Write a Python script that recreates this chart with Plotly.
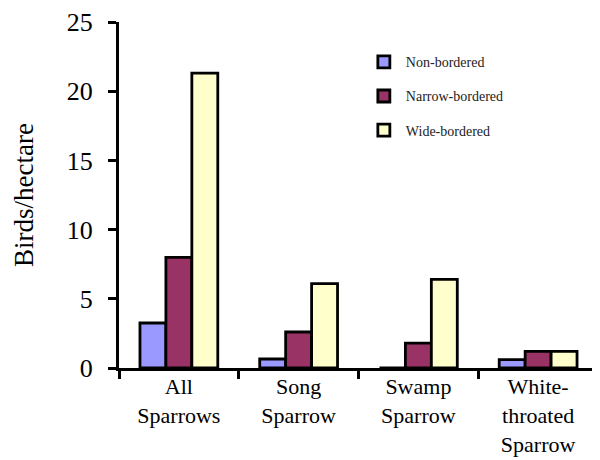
import plotly.graph_objects as go

categories = ["All<br>Sparrows", "Song<br>Sparrow", "Swamp<br>Sparrow", "White-<br>throated<br>Sparrow"]
series_names = ["Non-bordered", "Narrow-bordered", "Wide-bordered"]
non_bordered = [3.25, 0.65, 0.0, 0.6]
narrow_bordered = [8.0, 2.6, 1.8, 1.2]
wide_bordered = [21.3, 6.1, 6.4, 1.2]
colors = ["#9999ff", "#993366", "#ffffcc"]
y_ticks = [0, 5, 10, 15, 20, 25]

font_family = "Liberation Serif, Times New Roman, serif"

fig = go.Figure()
for i, (name, vals) in enumerate(zip(series_names, [non_bordered, narrow_bordered, wide_bordered])):
    fig.add_trace(go.Bar(
        x=categories, y=vals, name=name,
        marker=dict(color=colors[i], line=dict(color="black", width=2.8)),
        legendgroup=f"g{i}",
    ))

fig.update_layout(
    width=592, height=452,
    margin=dict(l=111, r=2, t=14, b=92),
    paper_bgcolor="white", plot_bgcolor="white",
    barmode="group", bargap=0.35, bargroupgap=0,
    font=dict(family=font_family, color="black"),
    showlegend=True,
    legend=dict(
        x=0.507, y=0.93, xanchor="left", yanchor="top",
        font=dict(size=14, family=font_family, color="#222"),
        tracegroupgap=13, bgcolor="rgba(0,0,0,0)",
        itemwidth=34,
    ),
    xaxis=dict(
        automargin=False,
        showline=True, linecolor="black", linewidth=3,
        ticks="outside", ticklen=8, tickwidth=3, tickcolor="black",
        tickson="boundaries",
        tickfont=dict(size=22, family=font_family),
        ticklabelstandoff=-3,
        showgrid=False, zeroline=False,
    ),
    yaxis=dict(
        automargin=False,
        range=[0, 25], tickvals=y_ticks,
        showline=True, linecolor="black", linewidth=3,
        ticks="outside", ticklen=8, tickwidth=3, tickcolor="black",
        tickfont=dict(size=26, family=font_family),
        ticklabelstandoff=10,
        title=dict(text="Birds/hectare", font=dict(size=27, family=font_family), standoff=26),
        showgrid=False, zeroline=False,
    ),
)

fig.write_html("out.html")
